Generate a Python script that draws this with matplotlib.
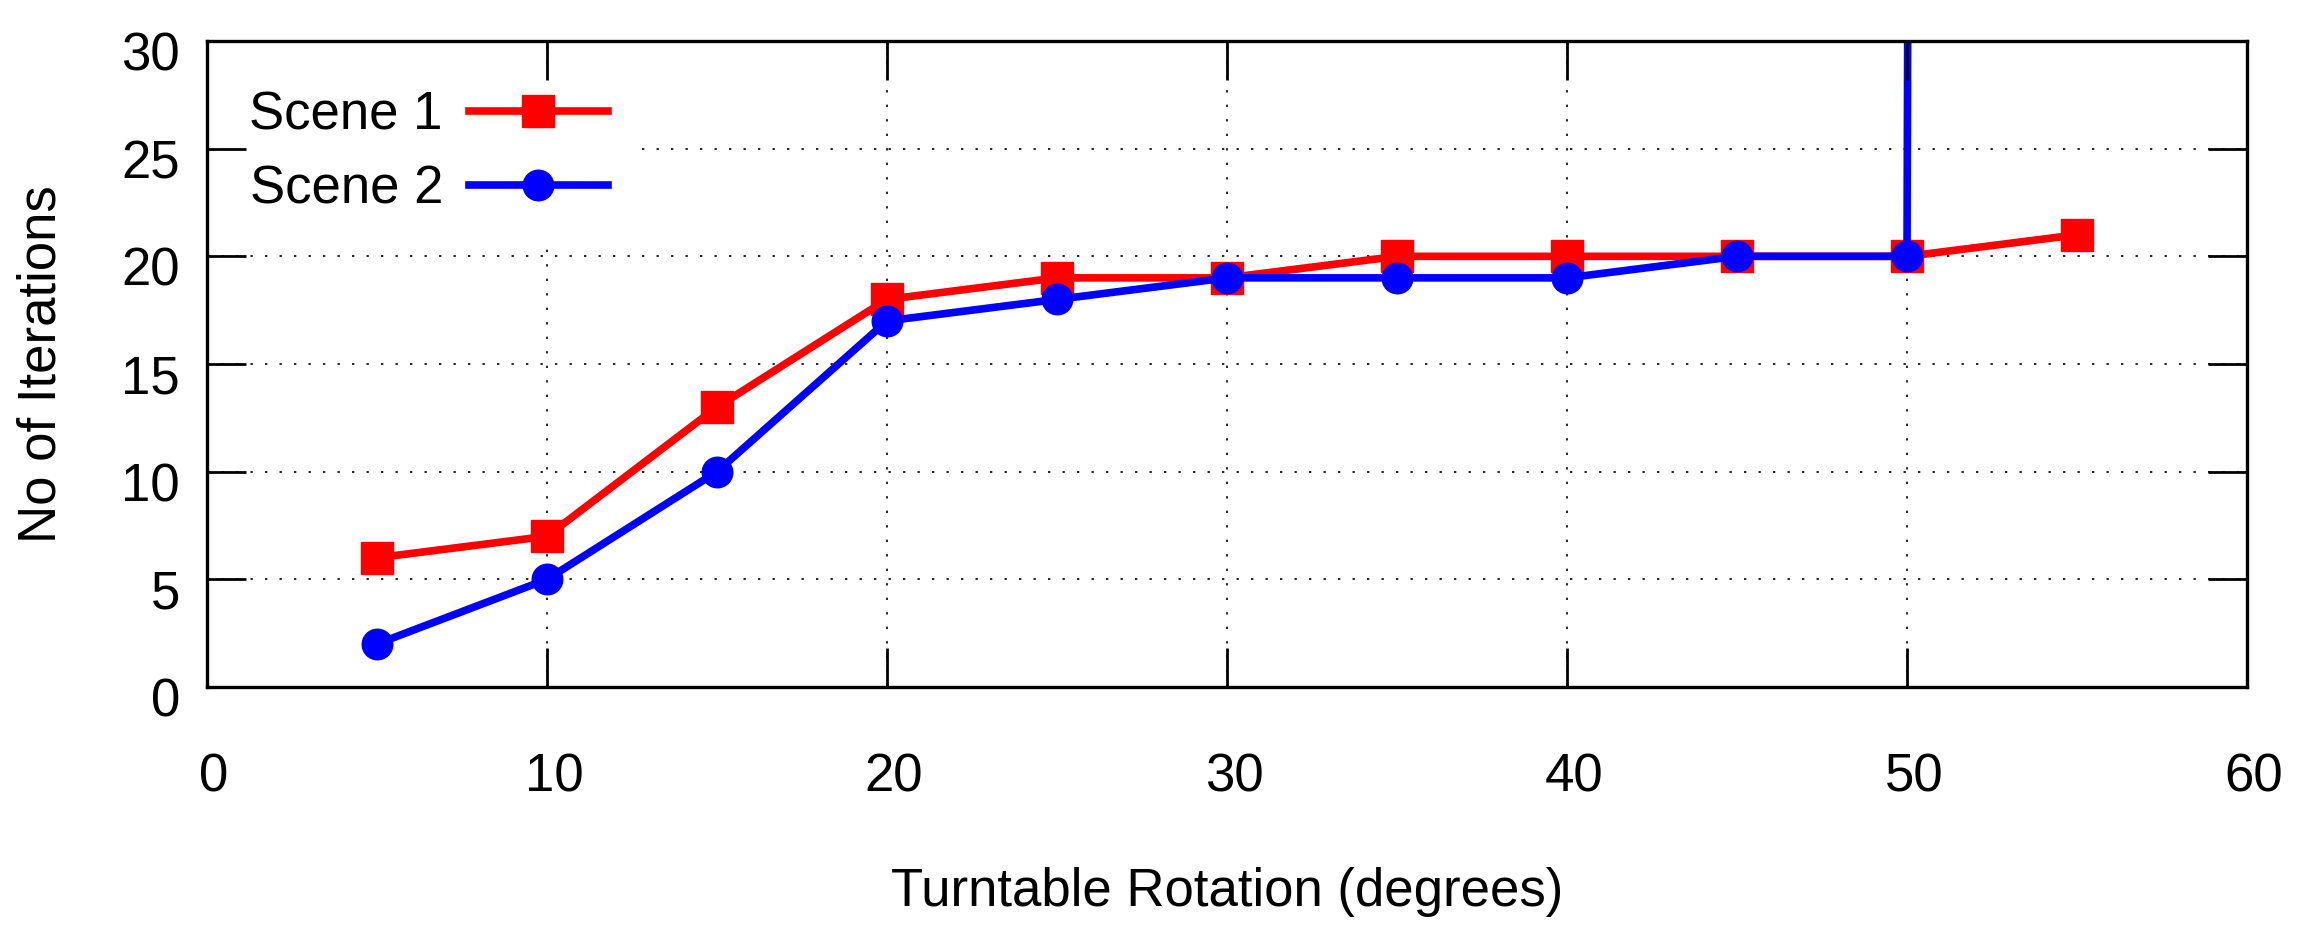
import matplotlib
matplotlib.use("Agg")
import matplotlib.pyplot as plt
from matplotlib.transforms import ScaledTranslation

plt.rcParams['font.family'] = ['Liberation Sans', 'DejaVu Sans']

rotation = [5, 10, 15, 20, 25, 30, 35, 40, 45, 50, 55]
scene1 = [6, 7, 13, 18, 19, 19, 20, 20, 20, 20, 21]
scene2 = [2, 5, 10, 17, 18, 19, 19, 19, 20, 20, 2500]
xticks = [0, 10, 20, 30, 40, 50, 60]
yticks = [0, 5, 10, 15, 20, 25, 30]

FS = 38
W, H = 2316, 926
rect = [207/W, 1-687/H, 2040/W, 646/H]

fig = plt.figure(figsize=(W/100, H/100), dpi=100)
ax = fig.add_axes(rect)
ax.set_zorder(1)

ax.plot(rotation, scene1, color='#ff0000', lw=5.5, marker='s', markersize=23,
        label='Scene 1', zorder=3)
ax.plot(rotation, scene2, color='#0000ff', lw=5.5, marker='o', markersize=22,
        label='Scene 2', zorder=4)

ax.set_xlim(0, 60)
ax.set_ylim(0, 30)
ax.set_xticks(xticks)
ax.set_yticks(yticks)
ax.grid(True, color='black', lw=1.2, linestyle=(0, (1.4, 7.3)))
ax.set_axisbelow(True)
ax.tick_params(axis='both', which='major', direction='in', length=0,
               labelsize=FS)
ax.tick_params(axis='x', pad=47)
ax.tick_params(axis='y', pad=19.5)
for s in ax.spines.values():
    s.set_visible(False)

dx = ScaledTranslation(7/100, 0, fig.dpi_scale_trans)
dy = ScaledTranslation(0, -10/100, fig.dpi_scale_trans)
for lab in ax.get_xticklabels():
    lab.set_transform(lab.get_transform() + dx)
for lab in ax.get_yticklabels():
    lab.set_transform(lab.get_transform() + dy)

ax.set_xlabel('Turntable Rotation (degrees)', fontsize=FS)
ax.xaxis.set_label_coords(0.5, (687-892)/646)
ax.xaxis.label.set_va('center')
ax.set_ylabel('No of Iterations', fontsize=FS)
ax.yaxis.set_label_coords((42-207)/2040, 0.5)
ax.yaxis.label.set_va('center')

leg = ax.legend(loc='upper left', bbox_to_anchor=(16/2040, 0.964), borderaxespad=0,
                fontsize=FS, markerfirst=False, frameon=True, fancybox=False,
                framealpha=1, edgecolor='white', borderpad=0.5,
                handlelength=2.64, handletextpad=0.49, labelspacing=0.46)
leg.set_zorder(5)

# overlay axes for the border and inward ticks, drawn above the legend
ax2 = fig.add_axes(rect)
ax2.set_zorder(2)
ax2.patch.set_visible(False)
ax2.set_xlim(0, 60)
ax2.set_ylim(0, 30)
ax2.set_xticks(xticks)
ax2.set_yticks(yticks)
ax2.tick_params(axis='both', which='major', direction='in', length=28, width=2.0,
                top=True, right=True, labelbottom=False, labelleft=False)
for s in ax2.spines.values():
    s.set_linewidth(2.4)

fig.savefig('out.png', dpi=100)
